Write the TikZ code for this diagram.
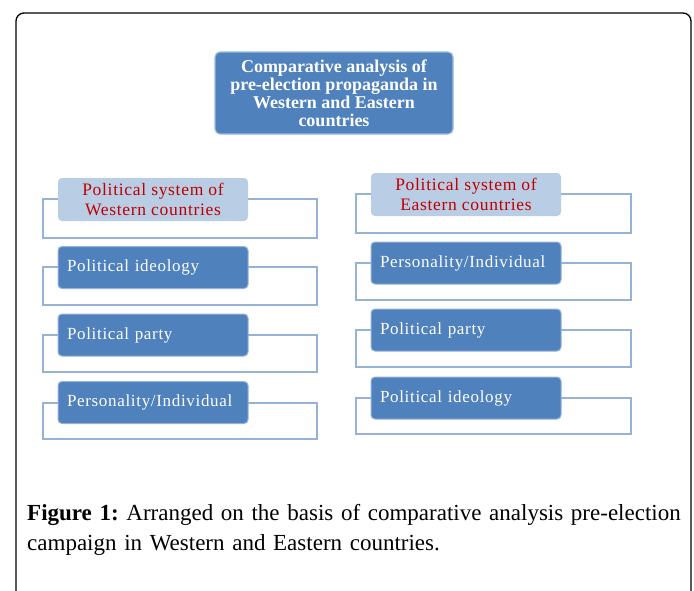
\documentclass[tikz,border=0pt]{standalone}
\usepackage{fontspec}
\setmainfont{Liberation Serif}
\begin{document}
\frenchspacing
\definecolor{darkblue}{HTML}{4F81BD}
\definecolor{lightblue}{HTML}{B9CDE5}
\definecolor{frameblue}{HTML}{95B3D7}
\definecolor{redtext}{HTML}{C00000}
\begin{tikzpicture}[x=1pt,y=-1pt,
  bracketbox/.style={draw=frameblue,line width=1.5pt},
  darkbox/.style={draw=darkblue!60!white,line width=1pt,fill=darkblue,rounded corners=4pt,
    minimum width=190pt,minimum height=42pt,text width=172pt,align=left,inner xsep=9pt,
    text=white,font=\fontsize{17}{20}\selectfont\addfontfeature{LetterSpace=4}},
  lightbox/.style={fill=lightblue,rounded corners=4pt,minimum width=190pt,minimum height=43pt,
    align=center,text=redtext,inner sep=0pt,font=\fontsize{17.5}{20}\selectfont\addfontfeature{LetterSpace=4}},
  titlebox/.style={draw=darkblue!55!white,line width=1.2pt,fill=darkblue,rounded corners=5pt,
    minimum width=238pt,minimum height=82pt,align=center,text=white,inner sep=0pt,
    font=\fontsize{18}{18}\selectfont\bfseries}]
\useasboundingbox (0,0) rectangle (694,590);
\draw[line width=1.3pt,rounded corners=8pt] (16,592) -- (16,13) -- (691,13) -- (691,592);
\node[titlebox] (title) at (334,93) {Comparative analysis of\\pre-election propaganda in\\Western and Eastern\\countries};
% left column
\draw[bracketbox] (43,199) rectangle (317,238);
\draw[bracketbox] (43,267) rectangle (317,305);
\draw[bracketbox] (43,335) rectangle (317,372);
\draw[bracketbox] (43,403) rectangle (317,439);
\node[lightbox] (wh) at (153,199.5) {Political system of\\Western countries};
\node[darkbox] (w1) at (153,267.5) {Political ideology};
\node[darkbox] (w2) at (153,335) {Political party};
\node[darkbox] (w3) at (153,402.5) {Personality/Individual};
% right column
\draw[bracketbox] (356,194) rectangle (631,233);
\draw[bracketbox] (356,263) rectangle (631,300);
\draw[bracketbox] (356,330) rectangle (631,367);
\draw[bracketbox] (356,398) rectangle (631,434);
\node[lightbox] (eh) at (466,194.5) {Political system of\\Eastern countries};
\node[darkbox] (e1) at (466,263) {Personality/Individual};
\node[darkbox] (e2) at (466,330) {Political party};
\node[darkbox] (e3) at (466,398) {Political ideology};
% caption
\node[anchor=north west,align=left,inner sep=0pt,text width=665pt,
  font=\fontsize{23}{30}\selectfont] (cap) at (27,504)
  {\textbf{Figure 1:} Arranged on the basis of comparative analysis pre-election\\campaign in Western and Eastern countries.};
\end{tikzpicture}
\end{document}
